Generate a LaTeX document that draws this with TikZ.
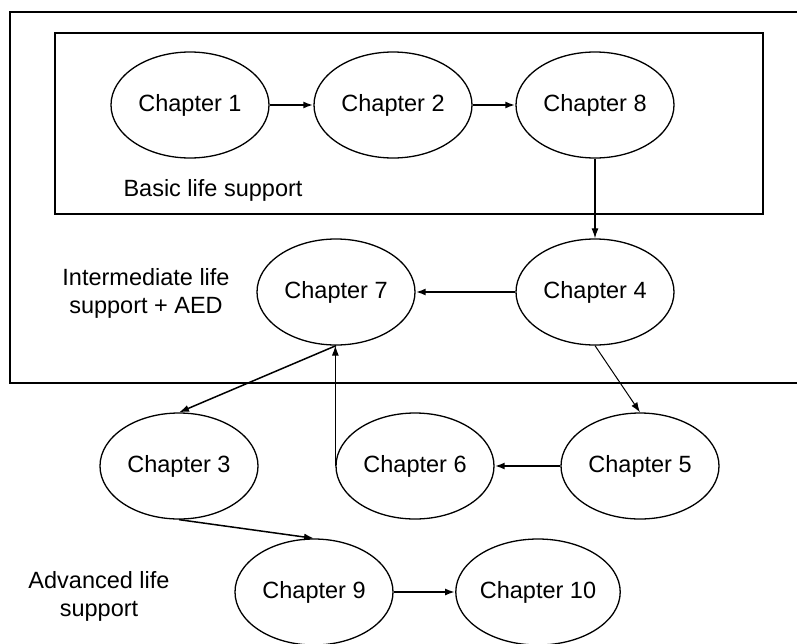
\documentclass[tikz,border=0pt]{standalone}
\usepackage{fontspec}
\setmainfont{Liberation Sans}
\usetikzlibrary{shapes.geometric,arrows.meta}
\begin{document}
\begin{tikzpicture}[x=1pt,y=-1pt,
  chap/.style={ellipse,draw,line width=1.3pt,minimum width=158pt,minimum height=106pt,inner sep=0pt,
    font=\fontsize{23.5}{28}\selectfont},
  lbl/.style={align=center,font=\fontsize{23.5}{28}\selectfont},
  frame/.style={line width=1.8pt},
  link/.style={line width=1.2pt,-{Latex[length=10pt,width=7pt]}},
  boldlink/.style={line width=2pt,-{Latex[length=10pt,width=7pt]}}]
\useasboundingbox (0,0) rectangle (797,643);
\begin{scope}
\clip (0,0) rectangle (797,643);
% group frames
\draw[frame] (797,12) -- (10,12) -- (10,383) -- (797,383);
\draw[frame] (55,33) rectangle (763,214);

% chapters
\node[chap] (c1) at (190,105) {Chapter 1};
\node[chap] (c2) at (393,105) {Chapter 2};
\node[chap] (c8) at (595,105) {Chapter 8};
\node[chap] (c7) at (336,292) {Chapter 7};
\node[chap] (c4) at (595,292) {Chapter 4};
\node[chap] (c3) at (179,466) {Chapter 3};
\node[chap] (c6) at (415,466) {Chapter 6};
\node[chap] (c5) at (640,466) {Chapter 5};
\node[chap] (c9) at (314,592) {Chapter 9};
\node[chap] (c10) at (538,592) {Chapter 10};

% group labels
\node[lbl] (basic) at (213,190) {Basic life support};
\node[lbl] (inter) at (146,293) {Intermediate life\\support + AED};
\node[lbl] (adv) at (99,596) {Advanced life\\support};

% connectors
\draw[boldlink] (c1.east) -- (c2.west);
\draw[boldlink] (c2.east) -- (c8.west);
\draw[link] (c8.south) -- (c4.north);
\draw[boldlink] (c4.west) -- (c7.east);
\draw[link,line width=1.5pt] (c7.south) -- (c3.north);
\draw[link,line width=1pt] (c6.west) -- (c6.west |- c7.south);
\draw[link,line width=1pt] (c4.south) -- (c5.north);
\draw[boldlink] (c5.west) -- (c6.east);
\draw[link,line width=1.5pt] (c3.south) -- (c9.north);
\draw[boldlink] (c9.east) -- (c10.west);
\end{scope}
\end{tikzpicture}
\end{document}
